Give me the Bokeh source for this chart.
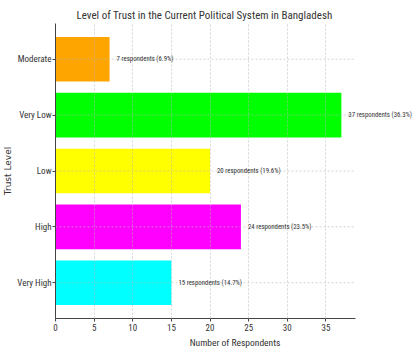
from bokeh.plotting import figure
from bokeh.models import ColumnDataSource, FactorRange, Range1d, FixedTicker, LabelSet
from bokeh.core.properties import value
from bokeh.embed import file_html
from bokeh.resources import INLINE

# Trust levels, bottom to top
levels = ["Very High", "High", "Low", "Very Low", "Moderate"]
counts = [15, 24, 20, 37, 7]
percents = [14.7, 23.5, 19.6, 36.3, 6.9]
colors = ["#00FFFF", "#FF00FF", "#FFFF00", "#00FF00", "#FFA500"]
x_ticks = [0, 5, 10, 15, 20, 25, 30, 35]

x_max = max(counts) * 1.05          # end of the value axis
x_view = x_max * 1.196              # extra room on the right for the value labels

labels = [f"{c} respondents ({p}%)" for c, p in zip(counts, percents)]
src = ColumnDataSource(dict(level=levels, count=counts, color=colors, label=labels))
grid_src = ColumnDataSource(dict(level=levels, x0=[0] * len(levels), x1=[x_max] * len(levels)))

FONT = "Roboto Condensed"

p = figure(width=414, height=350, output_backend="svg", toolbar_location=None,
           y_range=FactorRange(factors=levels, range_padding=0.056, range_padding_units="percent"),
           x_range=Range1d(0, x_view),
           min_border_left=53, min_border_right=0, min_border_top=23, min_border_bottom=28,
           title="Level of Trust in the Current Political System in Bangladesh")

p.hbar(y="level", right="count", left=0, height=0.8, color="color", source=src, line_color=None)

# horizontal dashed guides at each category, stopping at the axis end
p.segment(x0="x0", x1="x1", y0="level", y1="level", source=grid_src,
          line_color="#b8b8b8", line_alpha=0.6, line_dash="2 2", line_width=1)

p.add_layout(LabelSet(x="count", y="level", text="label", source=src, x_offset=7,
                      text_baseline="middle", text_font=value(FONT), text_font_size="6.8px",
                      text_color="#333333"))

p.title.align = "left"
p.title.offset = 21
p.title.standoff = 4
p.title.text_font = FONT
p.title.text_font_size = "11px"
p.title.text_font_style = "normal"
p.title.text_color = "#333333"

p.outline_line_color = None
for ax in (p.xaxis, p.yaxis):
    ax.axis_line_color = "#444444"
    ax.major_tick_line_color = "#444444"
    ax.major_tick_out = 3
    ax.major_tick_in = 0
    ax.minor_tick_line_color = None
    ax.major_label_text_font = FONT
    ax.major_label_text_font_size = "9px"
    ax.major_label_text_color = "#333333"
    ax.axis_label_text_font_style = "normal"
    ax.axis_label_text_color = "#333333"

p.xaxis.ticker = FixedTicker(ticks=x_ticks)
p.xaxis.bounds = (0, x_max)
p.xaxis.axis_label = "Number of Respondents"
p.xaxis.axis_label_text_font = FONT
p.xaxis.axis_label_text_font_size = "9.5px"
p.xaxis.axis_label_standoff = 3
p.xaxis.major_label_standoff = 2

p.yaxis.axis_label = "Trust Level"
p.yaxis.axis_label_text_font = "DejaVu Sans"
p.yaxis.axis_label_text_font_size = "9px"
p.yaxis.axis_label_standoff = 1
p.yaxis.major_label_standoff = 1

p.ygrid.grid_line_color = None
p.xgrid.grid_line_color = "#b8b8b8"
p.xgrid.grid_line_alpha = 0.6
p.xgrid.grid_line_dash = "2 2"
p.xgrid.level = "annotation"

out = file_html(p, INLINE)
open("out.html", "w").write(out)
